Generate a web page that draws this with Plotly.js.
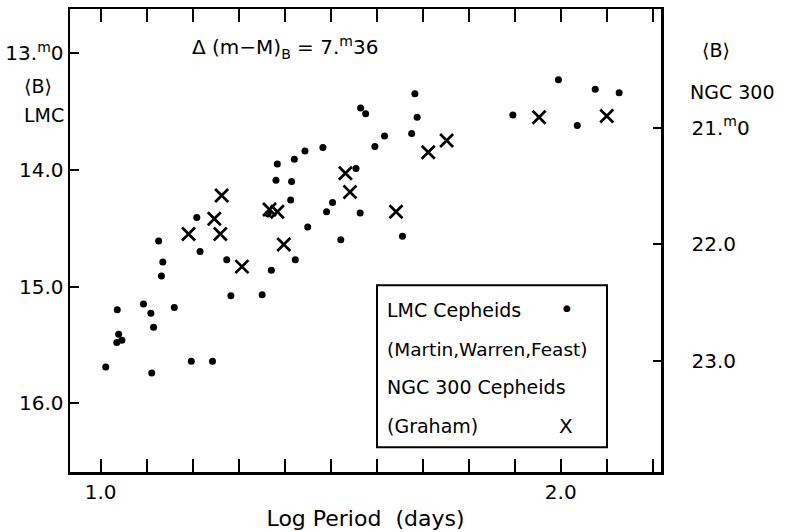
<!DOCTYPE html>
<html>
<head>
<meta charset="utf-8">
<script src="https://cdn.plot.ly/plotly-3.0.1.min.js"></script>
<style>html,body{margin:0;padding:0;background:#fff;}#chart{width:793px;height:532px;}</style>
</head>
<body>
<div id="chart"></div>
<script>
// LMC Cepheids (Martin, Warren, Feast): log period, <B> magnitude
const lmcLogP = [1.011,1.035,1.046,1.039,1.036,1.093,1.109,1.115,1.111,1.160,
                 1.126,1.135,1.132,1.197,1.243,1.209,1.216,1.274,1.283,1.351,
                 1.371,1.364,1.381,1.415,1.413,1.423,1.450,1.491,1.504,1.522,
                 1.384,1.421,1.444,1.483,1.555,1.564,1.656,1.565,1.576,1.596,
                 1.617,1.676,1.683,1.688,1.896,1.995,2.036,2.075,2.127];
const lmcB    = [15.69,15.48,15.46,15.41,15.20,15.15,15.23,15.35,15.74,15.18,
                 14.61,14.79,14.91,15.64,15.64,14.41,14.70,14.77,15.08,15.07,
                 14.86,14.38,14.09,14.10,14.26,14.77,14.49,14.36,14.28,14.60,
                 13.95,13.91,13.84,13.81,13.99,14.37,14.57,13.47,13.52,13.80,
                 13.71,13.69,13.35,13.55,13.53,13.23,13.62,13.31,13.34];
// NGC 300 Cepheids (Graham): log period, <B> magnitude
const ngcLogP = [1.191,1.247,1.260,1.263,1.307,1.367,1.384,1.398,1.532,1.542,
                 1.642,1.712,1.752,1.953,2.100];
const ngcB    = [21.91,21.78,21.91,21.58,22.19,21.70,21.72,22.00,21.39,21.55,
                 21.72,21.21,21.11,20.91,20.90];
const deltaMod = 7.36;
const xTickVals = [1.0, 1.5, 2.0];
const xTickText = ['1.0', '', '2.0'];
const lmcTickVals = [13, 14, 15, 16];
const lmcTickText = ['13.<sup>m</sup>0', '14.0', '15.0', '16.0'];
const ngcTickVals = [21, 22, 23];
const ngcTickText = ['21.<sup>m</sup>0', '22.0', '23.0'];

const lmcRange = [16.589, 12.623];
const ngcRange = [lmcRange[0] + deltaMod, lmcRange[1] + deltaMod];
const F = 'DejaVu Sans, Liberation Sans, sans-serif';

const traces = [
  {x: lmcLogP, y: lmcB, type: 'scatter', mode: 'markers', yaxis: 'y',
   marker: {symbol: 'circle', size: 7, color: '#000'}, name: 'LMC', showlegend: false},
  {x: ngcLogP, y: ngcB, type: 'scatter', mode: 'markers', yaxis: 'y2',
   marker: {symbol: 'x-thin-open', size: 13, color: '#000', line: {color: '#000', width: 2.7}},
   name: 'NGC 300', showlegend: false}
];

function px(x){ return (x - 70) / 591; }
function py(y){ return (471.7 - y) / 462.7; }

const ann = (x, y, text, xa, size) => ({xref: 'paper', yref: 'paper', x: px(x), y: py(y), text: text,
  showarrow: false, xanchor: xa || 'left', yanchor: 'middle', font: {family: F, size: size || 19, color: '#000'}});

const layout = {
  width: 793, height: 532,
  margin: {l: 70, r: 132, t: 9, b: 60},
  paper_bgcolor: '#fff', plot_bgcolor: '#fff',
  font: {family: F, color: '#000', size: 19},
  xaxis: {range: [0.9333, 2.218], showgrid: false, zeroline: false,
    showline: true, linecolor: '#000', linewidth: 2.5, mirror: 'allticks',
    ticks: 'inside', ticklen: 13, tickwidth: 2, tickcolor: '#000',
    tickmode: 'array', tickvals: xTickVals, ticktext: xTickText,
    tickfont: {family: F, size: 20},
    minor: {dtick: 0.1, tick0: 1.0, ticks: 'inside', ticklen: 8, tickwidth: 2, tickcolor: '#000', showgrid: false},
    title: {text: 'Log Period  (days)', font: {family: F, size: 22}, standoff: 8}},
  yaxis: {range: lmcRange, showgrid: false, zeroline: false,
    showline: true, linecolor: '#000', linewidth: 2.5, mirror: false,
    ticks: 'inside', ticklen: 9, tickwidth: 2, tickcolor: '#000',
    tickmode: 'array', tickvals: lmcTickVals, ticktext: lmcTickText,
    tickfont: {family: F, size: 20}},
  yaxis2: {range: ngcRange, overlaying: 'y', side: 'right', showgrid: false, zeroline: false,
    showline: true, linecolor: '#000', linewidth: 2.5,
    ticks: 'inside', ticklen: 8, tickwidth: 2, tickcolor: '#000',
    tickmode: 'array', tickvals: ngcTickVals, ticktext: ngcTickText,
    tickfont: {family: F, size: 20}, ticklabelstandoff: 24},
  shapes: [
    {type: 'rect', xref: 'paper', yref: 'paper', x0: px(377), x1: px(607), y0: py(447), y1: py(285),
     line: {color: '#000', width: 2}, fillcolor: '#fff', layer: 'below'}
  ],
  annotations: [
    ann(285, 47, 'Δ (m−M)<sub>B</sub> = 7.<sup>m</sup>36', 'center', 20),
    ann(22, 86, '⟨B⟩', 'left', 19),
    ann(22, 115, 'LMC', 'left', 19),
    ann(700, 50, '⟨B⟩', 'left', 19),
    ann(688, 92, 'NGC 300', 'left', 19),
    ann(385, 310, 'LMC Cepheids', 'left', 19),
    ann(385, 349, '(Martin,Warren,Feast)', 'left', 18.5),
    ann(385, 387, 'NGC 300 Cepheids', 'left', 19),
    ann(385, 426, '(Graham)', 'left', 19),
    ann(567, 308, '●', 'center', 9),
    ann(566, 426, 'X', 'center', 20)
  ]
};

Plotly.newPlot('chart', traces, layout, {staticPlot: true, displayModeBar: false});
</script>
</body>
</html>
